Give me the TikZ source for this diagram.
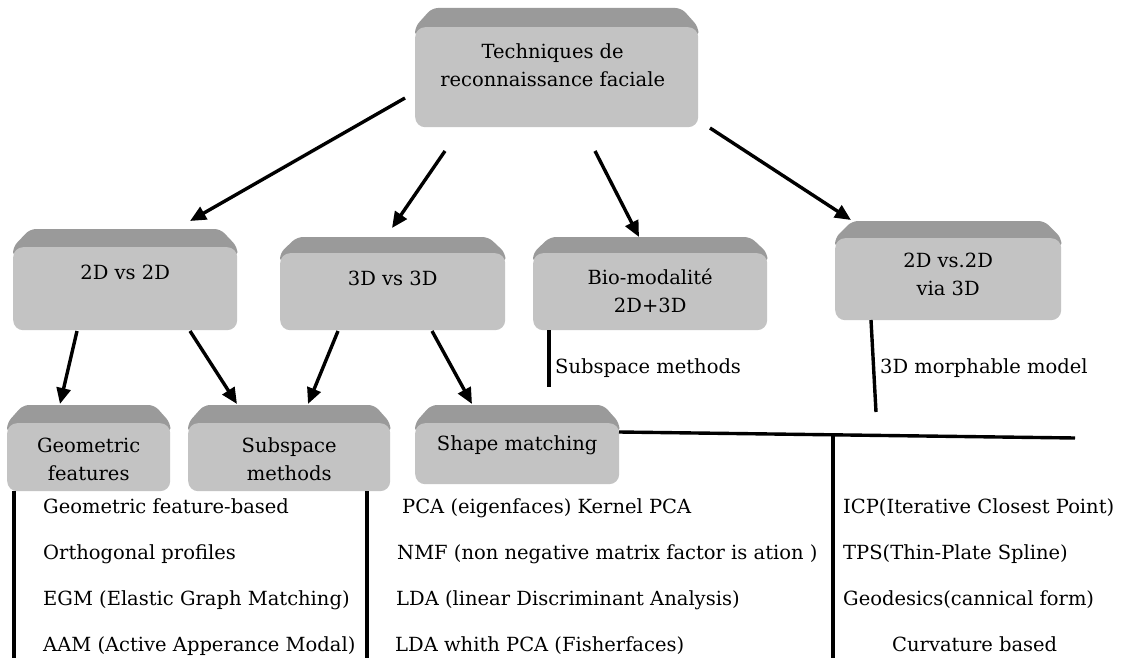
\documentclass[tikz,border=0pt]{standalone}
\usepackage{fontspec}
\setmainfont{DejaVu Serif}
\usetikzlibrary{calc,arrows.meta,backgrounds}
\definecolor{facegray}{HTML}{C3C3C3}
\definecolor{bevgray}{HTML}{9A9A9A}
\tikzset{
  face/.style={rectangle, rounded corners=10pt, fill=facegray, inner sep=0pt, anchor=north west},
  boxtext/.style={align=center, inner sep=0pt, font=\fontsize{19.5}{28.5}\selectfont},
  txt/.style={font=\fontsize{19.5}{23}\selectfont, anchor=west, inner sep=0pt, text height=14pt, text depth=4pt},
  arr/.style={line width=3.4pt, -{Triangle[length=16pt,width=14pt]}},
  stem/.style={line width=3.4pt},
}
\newcommand\bevelbox[3]{%
  \begin{scope}[on background layer]
    \fill[bevgray, rounded corners=6pt] ($(#1.north west)+(0,10)$) -- (#1.north west) -- ($(#1.north west)+(#3,-#2)$) -- ($(#1.north east)+(-#3,-#2)$) -- (#1.north east) -- ($(#1.north east)+(0,10)$) -- cycle;
  \end{scope}}
\begin{document}
\begin{tikzpicture}[x=1pt,y=-1pt]
\useasboundingbox (0,0) rectangle (1130,658);
% boxes
\node[face, minimum width=283pt, minimum height=100pt, label={[boxtext, xshift=-4pt, yshift=12pt]center:Techniques de\\reconnaissance faciale}] (top) at (415,27) {};
\node[face, minimum width=224pt, minimum height=83pt, label={[boxtext, yshift=16pt]center:2D vs 2D}] (b2d) at (13,247) {};
\node[face, minimum width=225pt, minimum height=77pt, label={[boxtext, yshift=13pt]center:3D vs 3D}] (b3d) at (280,253) {};
\node[face, minimum width=234pt, minimum height=77pt, label={[boxtext, yshift=1pt]center:Bio-modalité\\2D+3D}] (bio) at (533,253) {};
\node[face, minimum width=226pt, minimum height=82pt, label={[boxtext, yshift=5pt]center:2D vs.2D\\via 3D}] (via) at (835,238) {};
\node[face, minimum width=163pt, minimum height=68pt, label={[boxtext, yshift=-2pt]center:Geometric\\features}] (geo) at (7,423) {};
\node[face, minimum width=202pt, minimum height=68pt, label={[boxtext, yshift=-2pt]center:Subspace\\methods}] (sub) at (188,423) {};
\node[face, minimum width=204pt, minimum height=61pt, label={[boxtext, yshift=8pt]center:Shape matching}] (shp) at (415,423) {};
\bevelbox{top}{19}{17}
\bevelbox{b2d}{18}{17}
\bevelbox{b3d}{16}{17}
\bevelbox{bio}{16}{17}
\bevelbox{via}{17}{17}
\bevelbox{geo}{18}{16}
\bevelbox{sub}{18}{16}
\bevelbox{shp}{18}{16}
% arrow end points
\coordinate (a1s) at (405,98);  \coordinate (a1e) at (190,221);
\coordinate (a2s) at (445,151); \coordinate (a2e) at (392,228);
\coordinate (a3s) at (595,151); \coordinate (a3e) at (639,237);
\coordinate (a4s) at (710,128); \coordinate (a4e) at (851,220);
\coordinate (a5s) at (77,331);  \coordinate (a5e) at (60,404);
\coordinate (a6s) at (190,331); \coordinate (a6e) at (237,404);
\coordinate (a7s) at (338,331); \coordinate (a7e) at (308,404);
\coordinate (a8s) at (432,331); \coordinate (a8e) at (472,404);
\draw[arr] (a1s) -- (a1e);
\draw[arr] (a2s) -- (a2e);
\draw[arr] (a3s) -- (a3e);
\draw[arr] (a4s) -- (a4e);
\draw[arr] (a5s) -- (a5e);
\draw[arr] (a6s) -- (a6e);
\draw[arr] (a7s) -- (a7e);
\draw[arr] (a8s) -- (a8e);
% stems
\coordinate (s1a) at (549,330); \coordinate (s1b) at (549,387);
\coordinate (s2a) at (871,320); \coordinate (s2b) at (876,412);
\coordinate (h1a) at (619,432); \coordinate (h1b) at (1075,438);
\coordinate (v1a) at (833,436); \coordinate (v1b) at (833,658);
\coordinate (v2a) at (14,491);  \coordinate (v2b) at (14,658);
\coordinate (v3a) at (367,491); \coordinate (v3b) at (367,658);
\draw[stem] (s1a) -- (s1b);
\draw[stem] (s2a) -- (s2b);
\draw[stem] (h1a) -- (h1b);
\draw[stem] (v1a) -- (v1b);
\draw[stem] (v2a) -- (v2b);
\draw[stem] (v3a) -- (v3b);
% texts
\node[txt] (m1) at (555,368) {Subspace methods};
\node[txt] (m2) at (880,368) {3D morphable model};
\node[txt] (g1) at (43,508) {Geometric feature-based};
\node[txt] (g2) at (43,554) {Orthogonal profiles};
\node[txt] (g3) at (43,600) {EGM (Elastic Graph Matching)};
\node[txt] (g4) at (43,646) {AAM (Active Apperance Modal)};
\node[txt] (p1) at (402,508) {PCA (eigenfaces) Kernel PCA};
\node[txt] (p2) at (397,554) {NMF (non negative matrix factor is ation )};
\node[txt] (p3) at (396,600) {LDA (linear Discriminant Analysis)};
\node[txt] (p4) at (395,646) {LDA whith PCA (Fisherfaces)};
\node[txt] (c1) at (843,508) {ICP(Iterative Closest Point)};
\node[txt] (c2) at (843,554) {TPS(Thin-Plate Spline)};
\node[txt] (c3) at (843,600) {Geodesics(cannical form)};
\node[txt] (c4) at (892,646) {Curvature based};
\end{tikzpicture}
\end{document}
